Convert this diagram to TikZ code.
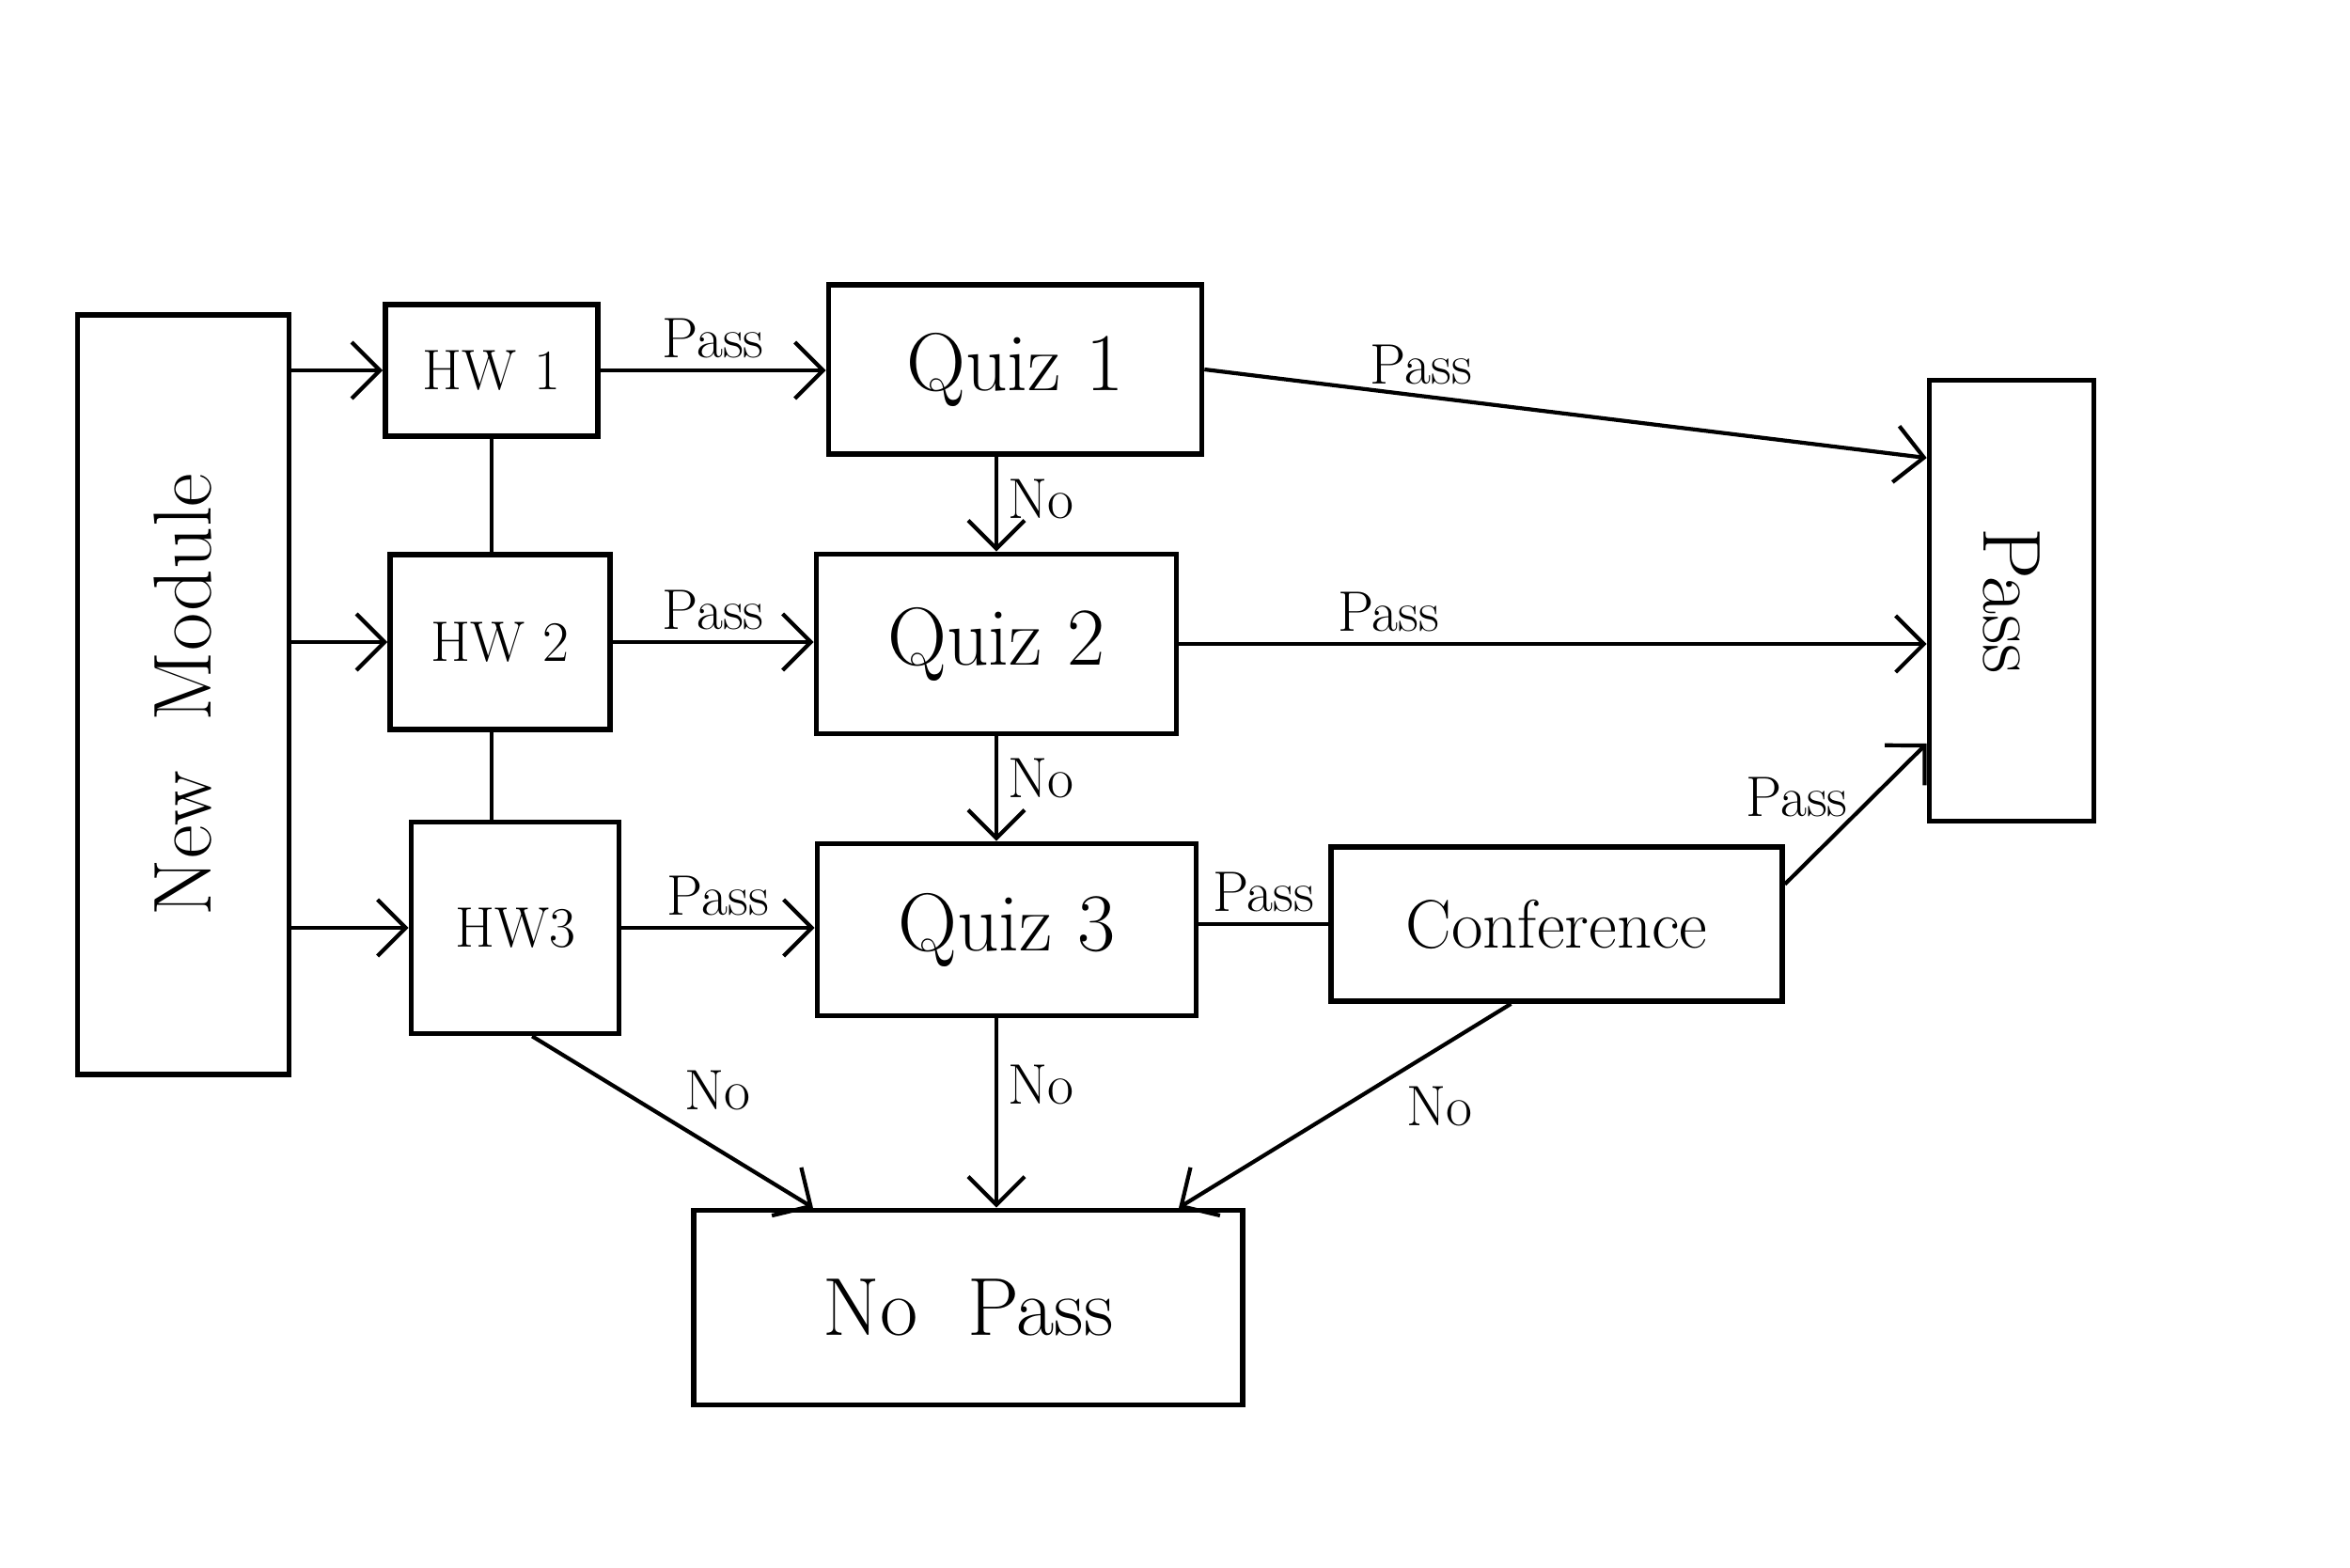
\documentclass[tikz,border=0pt]{standalone}
\usepackage{tikz}
\usetikzlibrary{arrows.meta, calc}

\begin{document}
\begin{tikzpicture}[
        box/.style={
            rectangle,
            draw=black,
            line width=1.6pt,
            align=center,
            inner sep=2pt
        },
        arrow/.style={
            -{Straight Barb[length=3mm,width=6mm]},
            line width=1.2pt
        },
        link/.style={
            line width=1.2pt
        },
        lbl/.style={
            font=\LARGE,
            inner sep=3pt
        }
    ]
    \useasboundingbox (0,0) rectangle (25,16.67);

    \node[box, minimum width=2.25cm, minimum height=8.08cm] (newmod) at (1.95,9.28) {\rotatebox{90}{\Huge New\ \ Module}};
    \node[box, minimum width=2.26cm, minimum height=1.40cm, font=\LARGE] (hw1) at (5.23,12.73) {HW 1};
    \node[box, minimum width=2.34cm, minimum height=1.86cm, font=\LARGE] (hw2) at (5.32,9.84) {HW 2};
    \node[box, minimum width=2.21cm, minimum height=2.25cm, font=\LARGE] (hw3) at (5.48,6.80) {HW3};
    \node[box, minimum width=3.97cm, minimum height=1.80cm, font=\Huge] (quiz1) at (10.80,12.74) {Quiz 1};
    \node[box, minimum width=3.83cm, minimum height=1.91cm, font=\Huge] (quiz2) at (10.60,9.82) {Quiz 2};
    \node[box, minimum width=4.03cm, minimum height=1.83cm, font=\Huge] (quiz3) at (10.71,6.78) {Quiz 3};
    \node[box, minimum width=4.80cm, minimum height=1.64cm, font=\huge] (conf) at (16.56,6.84) {Conference};
    \node[box, minimum width=1.75cm, minimum height=4.69cm] (pass) at (21.40,10.28) {\rotatebox{-90}{\Huge Pass}};
    \node[box, minimum width=5.84cm, minimum height=2.07cm, font=\Huge] (nopass) at (10.30,2.76) {No\ \ Pass};

    % module to homework
    \draw[arrow] (hw1.west -| newmod.east) -- (hw1.west);
    \draw[arrow] (hw2.west -| newmod.east) -- (hw2.west);
    \draw[arrow] (hw3.west -| newmod.east) -- (hw3.west);
    \draw[link] (hw1.south) -- (hw2.north -| hw1);
    \draw[link] (hw2.south -| hw1) -- (hw3.north -| hw1);

    % homework to quiz
    \draw[arrow] (hw1.east) -- node[lbl, above] {Pass} (hw1.east -| quiz1.west);
    \draw[arrow] (hw2.east) -- node[lbl, above] {Pass} (hw2.east -| quiz2.west);
    \draw[arrow] (hw3.east) -- node[lbl, above] {Pass} (hw3.east -| quiz3.west);

    % quiz chain
    \draw[arrow] (quiz1.south -| quiz2) -- node[lbl, right, pos=0.45] {No} (quiz2.north);
    \draw[arrow] (quiz2.south) -- node[lbl, right, pos=0.4] {No} (quiz3.north -| quiz2);
    \draw[arrow] (quiz3.south -| quiz2) -- node[lbl, right, pos=0.35] {No} (nopass.north -| quiz2);
    \draw[link] (conf.west -| quiz3.east) -- node[lbl, above] {Pass} (conf.west);

    % to pass
    \draw[arrow] (quiz1.east) -- node[lbl, above, pos=0.3] {Pass} ($(pass.north west)!0.18!(pass.south west)$);
    \draw[arrow] (quiz2.east) -- node[lbl, above, pos=0.28] {Pass} (quiz2.east -| pass.west);
    \draw[arrow] ($(conf.north east)!0.25!(conf.south east)$) -- node[lbl, left=4pt, pos=0.62] {Pass} ($(pass.north west)!0.82!(pass.south west)$);

    % to no pass
    \draw[arrow] ($(hw3.south west)!0.58!(hw3.south east)$) -- node[lbl, above right, pos=0.5] {No} ($(nopass.north west)!0.22!(nopass.north east)$);
    \draw[arrow] ($(conf.south west)!0.4!(conf.south east)$) -- node[lbl, below right, pos=0.35] {No} ($(nopass.north west)!0.88!(nopass.north east)$);
\end{tikzpicture}
\end{document}
